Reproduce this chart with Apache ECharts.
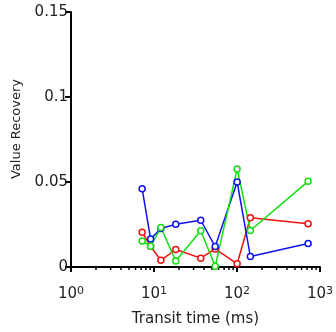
<!DOCTYPE html>
<html>
<head>
<meta charset="utf-8">
<script src="https://cdn.jsdelivr.net/npm/echarts@6/dist/echarts.min.js"></script>
<style>
  html, body { margin: 0; padding: 0; background: #fff; }
  #chart { width: 336px; height: 332px; }
</style>
</head>
<body>
<div id="chart"></div>
<script>
// transit times (ms), shared by all three series
const transitTimes = [7.2, 9.1, 12.1, 18.3, 36.6, 54.7, 100.5, 145, 720];
const blueValues = [0.0461, 0.0165, 0.0227, 0.0252, 0.0275, 0.0120, 0.0500, 0.0062, 0.0138];
const redValues = [0.0205, 0.0122, 0.0039, 0.0103, 0.0052, 0.0106, 0.0019, 0.0290, 0.0254];
const greenValues = [0.0153, 0.0122, 0.0232, 0.0035, 0.0213, 0.0004, 0.0577, 0.0215, 0.0504];
const yTicks = [0, 0.05, 0.1, 0.15];
const minorTicks = [2, 3, 4, 5, 6, 7, 8, 9, 20, 30, 40, 50, 60, 70, 80, 90, 200, 300, 400, 500, 600, 700, 800, 900];

const font = 'DejaVu Sans';
const chart = echarts.init(document.getElementById('chart'));

function makeSeries(values, color) {
  return {
    type: 'line',
    data: transitTimes.map((t, i) => [t, values[i]]),
    symbol: 'circle',
    symbolSize: 6,
    lineStyle: { color: color, width: 1.5 },
    itemStyle: { color: '#fff', borderColor: color, borderWidth: 1.5 },
    emphasis: { disabled: true },
    clip: false,
    z: 3
  };
}

chart.setOption({
  animation: false,
  backgroundColor: '#fff',
  grid: { left: 71, right: 13, top: 12, bottom: 62, containLabel: false },
  // y axis title sits a bit above the plot centre in the original
  graphic: [{
    type: 'text',
    x: 17,
    y: 129,
    rotation: Math.PI / 2,
    style: {
      text: 'Value Recovery',
      fontFamily: font,
      fontSize: 13,
      fill: '#222',
      align: 'center',
      verticalAlign: 'middle'
    }
  }],
  xAxis: {
    type: 'log',
    logBase: 10,
    min: 1,
    max: 1000,
    name: 'Transit time (ms)',
    nameLocation: 'middle',
    nameGap: 45,
    nameTextStyle: { fontFamily: font, fontSize: 15, color: '#222' },
    axisLine: { lineStyle: { color: '#000', width: 2 } },
    axisTick: { length: 5, lineStyle: { color: '#000', width: 2 } },
    splitLine: { show: false },
    axisLabel: {
      margin: 19,
      formatter: v => '10{s|' + Math.round(Math.log10(v)) + '}',
      fontFamily: font,
      fontSize: 15,
      color: '#222',
      rich: {
        s: { fontFamily: font, fontSize: 11, color: '#222', padding: [0, 0, 5, 0] }
      }
    }
  },
  yAxis: {
    type: 'value',
    min: yTicks[0],
    max: yTicks[yTicks.length - 1],
    interval: 0.05,
    axisLine: { show: true, lineStyle: { color: '#000', width: 2 } },
    axisTick: { show: true, length: 6, lineStyle: { color: '#000', width: 2 } },
    splitLine: { show: false },
    axisLabel: { fontFamily: font, fontSize: 15, color: '#222', margin: 3 }
  },
  series: [
    {
      // minor log ticks under the x axis
      type: 'custom',
      silent: true,
      clip: false,
      data: minorTicks.map(v => [v, 0]),
      renderItem: (params, api) => {
        const p = api.coord([api.value(0), 0]);
        return {
          type: 'line',
          shape: { x1: p[0], y1: p[1], x2: p[0], y2: p[1] + 3 },
          style: { stroke: '#000', lineWidth: 1.5 }
        };
      },
      z: 1
    },
    makeSeries(redValues, '#f01010'),
    makeSeries(blueValues, '#1010f0'),
    makeSeries(greenValues, '#10e010')
  ]
});
</script>
</body>
</html>
